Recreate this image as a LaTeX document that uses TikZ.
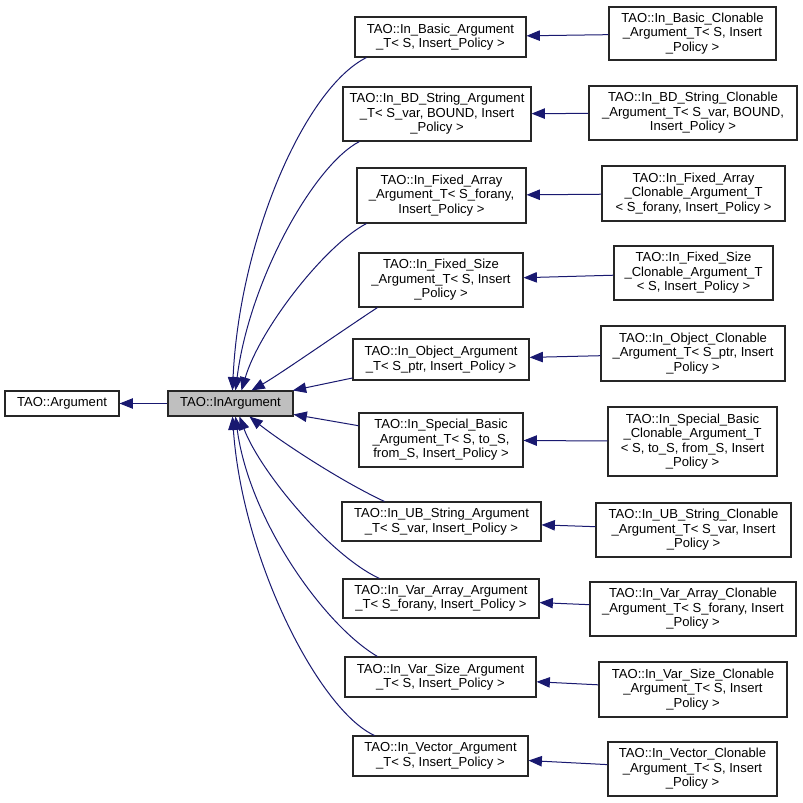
\documentclass[tikz,border=0pt]{standalone}
\usepackage{fontspec}
\setmainfont{Liberation Sans}
\usetikzlibrary{arrows.meta,calc}
\definecolor{edgeblue}{HTML}{191970}
\begin{document}
\begin{tikzpicture}[x=0.75pt,y=-0.75pt,
  box/.style={draw=black!85, line width=0.8pt, fill=white, align=center, inner sep=0pt, font=\fontsize{9.8}{10.9}\selectfont},
  sz/.style 2 args={minimum width=#1*0.75pt, minimum height=#2*0.75pt},
  inh/.style={draw=edgeblue, line width=0.75pt, -{Triangle[length=10pt,width=7.8pt,fill=edgeblue]}}
]
\fill[white] (0,0) rectangle (803,803);
\useasboundingbox (0,0) rectangle (803,803);

\node[box, sz={114}{25}] (arg) at (62,403.5) {TAO::Argument};
\node[box, sz={125}{25}, fill=black!25] (inarg) at (230.5,403.5) {TAO::InArgument};

\node[box, sz={171}{40}] (basic) at (440.5,37) {TAO::In\_Basic\_Argument\\\_T< S, Insert\_Policy >};
\node[box, sz={167}{53}] (basicC) at (692.5,33.5) {TAO::In\_Basic\_Clonable\\\_Argument\_T< S, Insert\\\_Policy >};
\node[box, sz={188}{54}] (bd) at (437,114) {TAO::In\_BD\_String\_Argument\\\_T< S\_var, BOUND, Insert\\\_Policy >};
\node[box, sz={208}{54}] (bdC) at (693,113) {TAO::In\_BD\_String\_Clonable\\\_Argument\_T< S\_var, BOUND,\\Insert\_Policy >};
\node[box, sz={169}{55}] (fa) at (441.5,195.5) {TAO::In\_Fixed\_Array\\\_Argument\_T< S\_forany,\\Insert\_Policy >};
\node[box, sz={183}{55}] (faC) at (693.5,193.5) {TAO::In\_Fixed\_Array\\\_Clonable\_Argument\_T\\< S\_forany, Insert\_Policy >};
\node[box, sz={164}{54}] (fs) at (441,280) {TAO::In\_Fixed\_Size\\\_Argument\_T< S, Insert\\\_Policy >};
\node[box, sz={159}{54}] (fsC) at (693.5,273) {TAO::In\_Fixed\_Size\\\_Clonable\_Argument\_T\\< S, Insert\_Policy >};
\node[box, sz={176}{41}] (obj) at (441,359.5) {TAO::In\_Object\_Argument\\\_T< S\_ptr, Insert\_Policy >};
\node[box, sz={184}{55}] (objC) at (693,353.5) {TAO::In\_Object\_Clonable\\\_Argument\_T< S\_ptr, Insert\\\_Policy >};
\node[box, sz={164}{54}] (sb) at (441,440) {TAO::In\_Special\_Basic\\\_Argument\_T< S, to\_S,\\from\_S, Insert\_Policy >};
\node[box, sz={169}{69}] (sbC) at (692.5,441.5) {TAO::In\_Special\_Basic\\\_Clonable\_Argument\_T\\< S, to\_S, from\_S, Insert\\\_Policy >};
\node[box, sz={199}{39}] (ub) at (441.5,521.5) {TAO::In\_UB\_String\_Argument\\\_T< S\_var, Insert\_Policy >};
\node[box, sz={195}{54}] (ubC) at (693.5,530) {TAO::In\_UB\_String\_Clonable\\\_Argument\_T< S\_var, Insert\\\_Policy >};
\node[box, sz={196}{39}] (va) at (441,598.5) {TAO::In\_Var\_Array\_Argument\\\_T< S\_forany, Insert\_Policy >};
\node[box, sz={206}{54}] (vaC) at (693,609) {TAO::In\_Var\_Array\_Clonable\\\_Argument\_T< S\_forany, Insert\\\_Policy >};
\node[box, sz={191}{40}] (vs) at (440.5,677) {TAO::In\_Var\_Size\_Argument\\\_T< S, Insert\_Policy >};
\node[box, sz={188}{55}] (vsC) at (693,689.5) {TAO::In\_Var\_Size\_Clonable\\\_Argument\_T< S, Insert\\\_Policy >};
\node[box, sz={175}{40}] (vec) at (440.5,756) {TAO::In\_Vector\_Argument\\\_T< S, Insert\_Policy >};
\node[box, sz={169}{54}] (vecC) at (692.5,769) {TAO::In\_Vector\_Clonable\\\_Argument\_T< S, Insert\\\_Policy >};

% base class
\draw[inh] (inarg) -- (arg);

% clonable -> argument
\foreach \c/\p in {basicC/basic, bdC/bd, faC/fa, fsC/fs, objC/obj, sbC/sb, ubC/ub, vaC/va, vsC/vs, vecC/vec}
  \draw[inh] (\c) -- (\p);

% argument -> InArgument
\draw[inh] ($(basic.south west)+(12,0)$) .. controls +(-62,31) and +(7,-151) .. ($(inarg.north west)+(65,0)$);
\draw[inh] ($(bd.south west)+(17,0)$) .. controls +(-45,23) and +(14,-111) .. ($(inarg.north west)+(68,0)$);
\draw[inh] ($(fa.south west)+(10,0)$) .. controls +(-42,22) and +(18,-61) .. ($(inarg.north west)+(74,0)$);
\draw[inh] ($(fs.south west)+(19,0)$) .. controls +(-38,25) and +(28,-16) .. ($(inarg.north west)+(84,0)$);
\draw[inh] (obj) -- (inarg);
\draw[inh] (sb) -- (inarg);
\draw[inh] ($(ub.north west)+(43,0)$) .. controls +(-45,-21) and +(30,24) .. ($(inarg.south west)+(82,0)$);
\draw[inh] ($(va.north west)+(37,0)$) .. controls +(-50,-23) and +(20,54) .. ($(inarg.south west)+(72,0)$);
\draw[inh] ($(vs.north west)+(33,0)$) .. controls +(-53,-31) and +(14,104) .. ($(inarg.south west)+(68,0)$);
\draw[inh] ($(vec.north west)+(22,0)$) .. controls +(-55,-25) and +(10,144) .. ($(inarg.south west)+(65,0)$);
\end{tikzpicture}
\end{document}
